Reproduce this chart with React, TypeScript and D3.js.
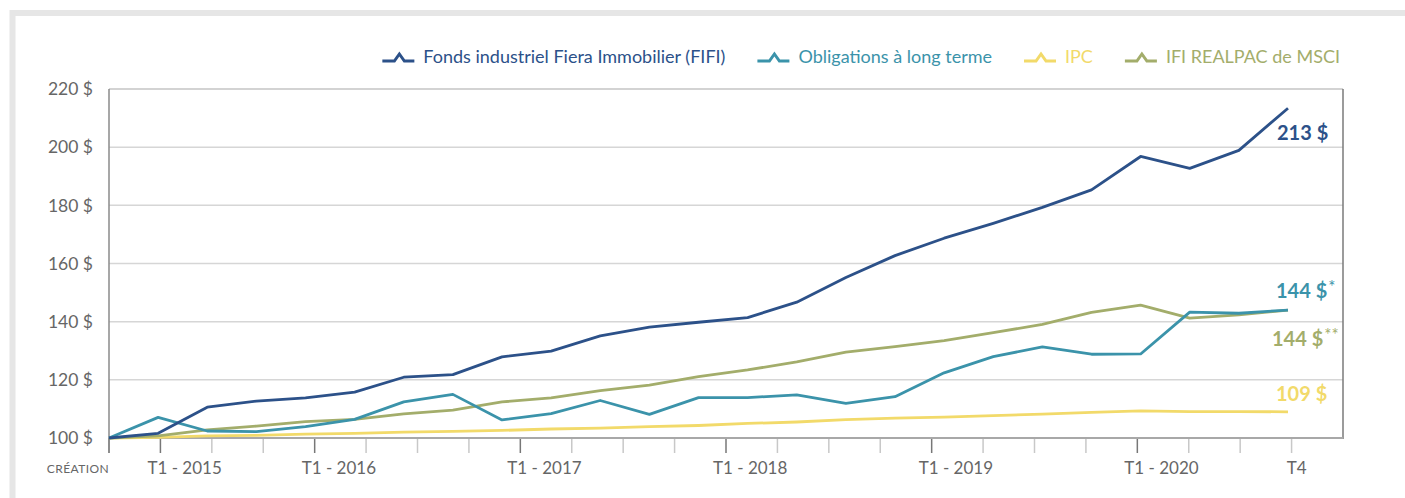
import React, { useEffect, useRef } from "react";
import * as d3 from "d3";

// ── Data ──────────────────────────────────────────────────────────────────────

const quarters = [
  "Création",
  "T1-2015", "T2-2015", "T3-2015", "T4-2015",
  "T1-2016", "T2-2016", "T3-2016", "T4-2016",
  "T1-2017", "T2-2017", "T3-2017", "T4-2017",
  "T1-2018", "T2-2018", "T3-2018", "T4-2018",
  "T1-2019", "T2-2019", "T3-2019", "T4-2019",
  "T1-2020", "T2-2020", "T3-2020", "T4-2020",
];

const fifi = [
  100, 101.6, 110.6, 112.7, 113.8, 115.8, 120.9, 121.8, 127.9, 129.9, 135.1, 138.1, 139.8,
  141.4, 146.7, 155.2, 162.7, 168.7, 173.8, 179.3, 185.3, 196.8, 192.7, 198.9, 213.4,
];
const obligations = [
  100, 107.1, 102.4, 102.2, 103.9, 106.4, 112.4, 115.0, 106.2, 108.4, 112.9, 108.1, 113.9,
  113.9, 114.8, 111.9, 114.2, 122.4, 128.0, 131.3, 128.8, 128.9, 143.3, 142.9, 144.0,
];
const ipc = [
  100, 100.2, 100.7, 100.9, 101.3, 101.6, 102.0, 102.3, 102.6, 103.1, 103.4, 103.9, 104.3,
  105.0, 105.5, 106.3, 106.8, 107.2, 107.7, 108.2, 108.8, 109.3, 109.1, 109.1, 109.0,
];
const realpac = [
  100, 100.7, 102.8, 104.1, 105.6, 106.4, 108.3, 109.6, 112.4, 113.8, 116.3, 118.2, 121.1,
  123.4, 126.2, 129.5, 131.4, 133.5, 136.2, 139.1, 143.2, 145.7, 141.2, 142.3, 144.0,
];

const yTicks = [100, 120, 140, 160, 180, 200, 220];

// axis ticks (24 tick slots) and their labels
const tickCount = 24;
const majorTicks = [0, 1, 4, 8, 12, 16, 20];
const tickLabels = [
  { text: "CRÉATION", tick: 0 },
  { text: "T1 - 2015", tick: 1 },
  { text: "T1 - 2016", tick: 4 },
  { text: "T1 - 2017", tick: 8 },
  { text: "T1 - 2018", tick: 12 },
  { text: "T1 - 2019", tick: 16 },
  { text: "T1 - 2020", tick: 20 },
  { text: "T4", tick: 23 },
];

// ── Styles ────────────────────────────────────────────────────────────────────

const W = 1405;
const H = 498;
const PLOT = { left: 109, right: 1343, top: 89, bottom: 438, lastX: 1288 };
const FONT = "Lato, 'Open Sans', sans-serif";

const SERIES = [
  { key: "ipc", label: "IPC", values: ipc, color: "#f2da6a", end: "109 $", sup: "", dy: -10.5, dx: 1276 },
  { key: "realpac", label: "IFI REALPAC de MSCI", values: realpac, color: "#a3ad6b", end: "144 $", sup: "**", dy: 36, dx: 1272 },
  { key: "obl", label: "Obligations à long terme", values: obligations, color: "#3b93aa", end: "144 $", sup: "*", dy: -12, dx: 1276 },
  { key: "fifi", label: "Fonds industriel Fiera Immobilier (FIFI)", values: fifi, color: "#2c5189", end: "213 $", sup: "", dy: 32, dx: 1277 },
];
const LEGEND_ORDER = ["fifi", "obl", "ipc", "realpac"];

function renderChart(svgEl: SVGSVGElement) {
  const svg = d3.select(svgEl);
  svg.selectAll("*").remove();
  svg.attr("width", W).attr("height", H).style("font-family", FONT);

  // outer frame
  svg.append("rect")
    .attr("x", 12.5).attr("y", 13)
    .attr("width", W + 40).attr("height", H + 40)
    .attr("fill", "none").attr("stroke", "#e6e6e6").attr("stroke-width", 6);

  const x = d3.scalePoint<string>().domain(quarters).range([PLOT.left, PLOT.lastX]);
  const xt = d3.scaleLinear().domain([0, tickCount]).range([PLOT.left, PLOT.right]);
  const y = d3.scaleLinear().domain([100, 220]).range([PLOT.bottom, PLOT.top]);

  // grid
  svg.append("g").selectAll("line")
    .data(yTicks.filter((v) => v > 100))
    .join("line")
    .attr("x1", PLOT.left).attr("x2", PLOT.right)
    .attr("y1", (d) => y(d)).attr("y2", (d) => y(d))
    .attr("stroke", "#d6d6d6").attr("stroke-width", 1.5);

  // y labels
  svg.append("g").selectAll("text")
    .data(yTicks)
    .join("text")
    .attr("x", 93).attr("y", (d) => y(d)).attr("dy", "0.36em")
    .attr("text-anchor", "end").attr("font-size", 17.5).attr("fill", "#666")
    .text((d) => `${d} $`);

  // x ticks
  svg.append("g").selectAll("line")
    .data(d3.range(tickCount))
    .join("line")
    .attr("x1", (d) => xt(d)).attr("x2", (d) => xt(d))
    .attr("y1", PLOT.bottom).attr("y2", PLOT.bottom + 15)
    .attr("stroke", (d) => (majorTicks.includes(d) ? "#777" : "#c8c8c8"))
    .attr("stroke-width", 1.5);

  // x labels
  svg.append("g").selectAll("text")
    .data(tickLabels)
    .join("text")
    .attr("x", (d) => (d.tick === 0 ? xt(0) : d.tick === tickCount - 1 ? xt(d.tick) + 5 : xt(d.tick + 0.47)))
    .attr("y", (d) => (d.tick === 0 ? 473 : 474))
    .attr("text-anchor", (d) => (d.tick === 0 ? "end" : "middle"))
    .attr("font-size", (d) => (d.tick === 0 ? 12 : 17))
    .attr("letter-spacing", (d) => (d.tick === 0 ? 0.4 : 0))
    .attr("fill", "#666")
    .text((d) => d.text);

  // plot frame
  svg.append("line").attr("x1", PLOT.left).attr("x2", PLOT.right).attr("y1", PLOT.top).attr("y2", PLOT.top)
    .attr("stroke", "#cfcfcf").attr("stroke-width", 1.5);
  svg.append("line").attr("x1", PLOT.right).attr("x2", PLOT.right).attr("y1", PLOT.top).attr("y2", PLOT.bottom + 1)
    .attr("stroke", "#7a7a7a").attr("stroke-width", 1.5);
  svg.append("line").attr("x1", PLOT.left).attr("x2", PLOT.right).attr("y1", PLOT.bottom).attr("y2", PLOT.bottom)
    .attr("stroke", "#a8a8a8").attr("stroke-width", 2);
  svg.append("line").attr("x1", PLOT.left).attr("x2", PLOT.left).attr("y1", PLOT.top).attr("y2", PLOT.bottom + 15)
    .attr("stroke", "#8a8a8a").attr("stroke-width", 1.5);

  // lines
  const line = d3.line<number>()
    .x((_, i) => x(quarters[i]) ?? 0)
    .y((d) => y(d));

  SERIES.forEach((s) => {
    svg.append("path")
      .attr("d", line(s.values))
      .attr("fill", "none")
      .attr("stroke", s.color)
      .attr("stroke-width", 2.8)
      .attr("stroke-linejoin", "round");
  });

  // end labels
  SERIES.forEach((s) => {
    const last = s.values[s.values.length - 1];
    const t = svg.append("text")
      .attr("x", s.dx).attr("y", y(last) + s.dy)
      .attr("font-size", 20).attr("font-weight", 700).attr("fill", s.color)
      .text(s.end);
    if (s.sup) {
      t.append("tspan").attr("dy", -5).attr("dx", 1).attr("font-size", 17).attr("font-weight", 400).text(s.sup);
    }
  });

  // legend (right-aligned)
  const legend = svg.append("g");
  const items = LEGEND_ORDER.map((k) => SERIES.find((s) => s.key === k)!);
  const ly = 57;
  const iconW = 32;
  const gapIcon = 9;
  const gapItem = 32;
  const texts = items.map((s) =>
    legend.append("text").attr("y", ly).attr("dy", "0.35em")
      .attr("font-size", 18).attr("fill", s.color).text(s.label)
  );
  let cursor = 1340;
  for (let i = items.length - 1; i >= 0; i--) {
    const w = (texts[i].node() as SVGTextElement).getComputedTextLength();
    const tx = cursor - w;
    texts[i].attr("x", tx);
    const ix = tx - gapIcon - iconW;
    legend.append("polyline")
      .attr("points", [
        [ix, ly + 4], [ix + 12, ly + 4], [ix + 17, ly - 3], [ix + 22, ly + 4], [ix + iconW, ly + 4],
      ].map((p) => p.join(",")).join(" "))
      .attr("fill", "none").attr("stroke", items[i].color).attr("stroke-width", 3)
      .attr("stroke-linejoin", "miter");
    cursor = ix - gapItem;
  }
}

export default function App() {
  const svgRef = useRef<SVGSVGElement>(null);

  useEffect(() => {
    if (svgRef.current) renderChart(svgRef.current);
  }, []);

  return (
    <div style={{ position: "absolute", left: 0, top: 0, width: W, height: H, background: "#fff" }}>
      <svg ref={svgRef} style={{ display: "block" }} />
    </div>
  );
}
